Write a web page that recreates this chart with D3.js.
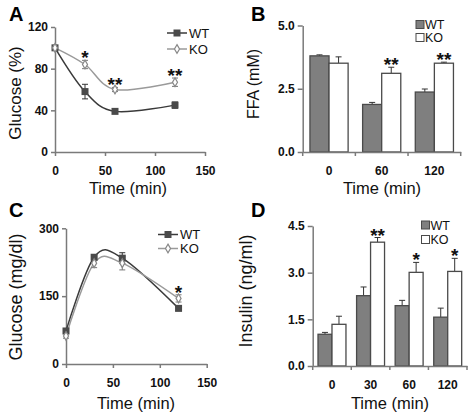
<!DOCTYPE html>
<html><head><meta charset="utf-8">
<script src="https://cdn.jsdelivr.net/npm/d3@7"></script>
<style>
body{margin:0;background:#fff;}
svg{display:block;font-family:"Liberation Sans",Arial,sans-serif;}
</style></head>
<body>
<svg id="c" width="472" height="420"></svg>
<script>
// ---------- data ----------
const seriesNames = ["WT", "KO"];
// Panel A: glucose (%) over time
const aTime = [0, 30, 60, 120];
const aWT = [100, 58, 39, 45];
const aWTErr = [0, 7, 2, 3];
const aKO = [100, 84, 60, 67];
const aKOErr = [0, 4, 2, 4];
const aStars = ["", "*", "**", "**"];
const aXTicks = [0, 50, 100, 150];
const aYTicks = [0, 40, 80, 120];
// Panel B: FFA (mM)
const bCats = ["0", "60", "120"];
const bWT = [3.8, 1.88, 2.37];
const bWTErr = [0.04, 0.08, 0.12];
const bKO = [3.51, 3.11, 3.51];
const bKOErr = [0.25, 0.24, 0.04];
const bStars = ["", "**", "**"];
const bYTicks = [0, 2.5, 5.0];
// Panel C: glucose (mg/dl)
const cTime = [0, 30, 60, 120];
const cWT = [73, 236, 234, 123];
const cWTErr = [5, 6, 12, 5];
const cKO = [62, 223, 223, 145];
const cKOErr = [5, 10, 15, 8];
const cStars = ["", "", "", "*"];
const cXTicks = [0, 50, 100, 150];
const cYTicks = [0, 150, 300];
// Panel D: insulin (ng/ml)
const dCats = ["0", "30", "60", "120"];
const dWT = [1.02, 2.26, 1.94, 1.57];
const dWTErr = [0.06, 0.28, 0.17, 0.29];
const dKO = [1.34, 3.98, 3.01, 3.04];
const dKOErr = [0.26, 0.15, 0.32, 0.42];
const dStars = ["", "**", "*", "*"];
const dYTicks = [0, 1.5, 3.0, 4.5];

// ---------- styles ----------
const AXIS = "#7a7a7a", WTC = "#3a3a3a", KOC = "#9a9a9a", BARWT = "#7f7f7f", BAREDGE = "#4a4a4a";
const svg = d3.select("#c");

function styleAxis(g) {
  g.selectAll("path.domain").attr("stroke", AXIS).attr("stroke-width", 1.5);
  g.selectAll(".tick line").attr("stroke", AXIS).attr("stroke-width", 1.5);
  g.selectAll(".tick text").attr("font-size", 12).attr("font-weight", "bold").attr("fill", "#111")
    .attr("font-family", '"Liberation Sans",Arial,sans-serif');
}
function star(g, x, yTop, s) {
  if (!s) return;
  g.append("text").attr("x", x).attr("y", yTop + 4).attr("text-anchor", "middle")
    .attr("font-size", 19).attr("font-weight", "bold").attr("fill", "#111").text(s);
}
function panelLetter(x, y, t) {
  svg.append("text").attr("x", x).attr("y", y).attr("font-size", 20).attr("font-weight", "bold")
    .attr("font-family", 'Arial,"Liberation Sans",sans-serif').text(t);
}
function ytitle(x, y, t, fs) {
  svg.append("text").attr("transform", `translate(${x},${y}) rotate(-90)`).attr("text-anchor", "middle")
    .attr("font-size", fs).attr("fill", "#111").text(t);
}
function xtitle(x, y, t) {
  svg.append("text").attr("x", x).attr("y", y).attr("text-anchor", "middle")
    .attr("font-size", 16.5).attr("fill", "#111").text(t);
}
const diamond = d3.symbol(d3.symbolDiamond, 22);

// ---------- line panel ----------
function linePanel(o) {
  const x = d3.scaleLinear().domain([0, 150]).range([o.x0, o.x1]);
  const y = d3.scaleLinear().domain([0, o.ymax]).range([o.y0, o.y1]);
  const g = svg.append("g");
  const ax = g.append("g").attr("transform", `translate(0,${o.y0})`)
    .call(d3.axisBottom(x).tickValues(o.xticks).tickSize(4).tickSizeOuter(0).tickPadding(10));
  styleAxis(ax);
  const ay = g.append("g").attr("transform", `translate(${o.x0},0)`)
    .call(d3.axisLeft(y).tickValues(o.yticks).tickSize(4).tickSizeOuter(0).tickPadding(3));
  styleAxis(ay);
  const series = [
    {name: "WT", v: o.wt, e: o.wtErr, color: WTC, ec: "#333"},
    {name: "KO", v: o.ko, e: o.koErr, color: KOC, ec: "#777"}
  ];
  const line = d3.line().curve(d3.curveCardinal.tension(0)).x(d => x(d[0])).y(d => y(d[1]));
  series.forEach(s => {
    const pts = o.time.map((t, i) => [t, s.v[i]]);
    g.append("path").attr("d", line(pts)).attr("fill", "none").attr("stroke", s.color).attr("stroke-width", 1.5);
    o.time.forEach((t, i) => {
      if (!s.e[i]) return;
      const cx = x(t), ya = y(s.v[i] + s.e[i]), yb = y(s.v[i] - s.e[i]);
      g.append("line").attr("x1", cx).attr("x2", cx).attr("y1", ya).attr("y2", yb).attr("stroke", s.ec).attr("stroke-width", 1);
      [ya, yb].forEach(yy => g.append("line").attr("x1", cx - 3).attr("x2", cx + 3).attr("y1", yy).attr("y2", yy).attr("stroke", s.ec).attr("stroke-width", 1));
    });
  });
  // markers
  o.time.forEach((t, i) => {
    g.append("rect").attr("x", x(t) - 3.5).attr("y", y(o.wt[i]) - 3.5).attr("width", 7).attr("height", 7).attr("fill", "#4a4a4a");
  });
  o.time.forEach((t, i) => {
    g.append("path").attr("d", diamond()).attr("transform", `translate(${x(t)},${y(o.ko[i])})`)
      .attr("fill", "#fff").attr("stroke", "#888").attr("stroke-width", 1.2);
  });
  o.time.forEach((t, i) => star(g, x(t), y(o.ko[i] + o.koErr[i]), o.stars[i]));
  // legend
  const L = o.leg;
  seriesNames.forEach((n, k) => {
    const yy = L.y + k * L.dy;
    g.append("line").attr("x1", L.x).attr("x2", L.x + 20).attr("y1", yy).attr("y2", yy)
      .attr("stroke", k === 0 ? WTC : KOC).attr("stroke-width", 1.5);
    if (k === 0) g.append("rect").attr("x", L.x + 10 - 3.5).attr("y", yy - 3.5).attr("width", 7).attr("height", 7).attr("fill", "#4a4a4a");
    else g.append("path").attr("d", diamond()).attr("transform", `translate(${L.x + 10},${yy})`)
      .attr("fill", "#fff").attr("stroke", "#888").attr("stroke-width", 1.2);
    g.append("text").attr("x", L.x + 22).attr("y", yy + 4.5).attr("font-size", 13).attr("fill", "#111").text(n);
  });
}

// ---------- bar panel ----------
function barPanel(o) {
  const x0 = d3.scaleBand().domain(o.cats).range([o.x0, o.x1]).paddingInner(0).paddingOuter(0);
  const x1 = d3.scaleBand().domain(seriesNames).range([0, x0.bandwidth()]).paddingInner(0).paddingOuter(0.38);
  const y = d3.scaleLinear().domain([0, o.ymax]).range([o.y0, o.y1]);
  const g = svg.append("g");
  const vals = {WT: o.wt, KO: o.ko}, errs = {WT: o.wtErr, KO: o.koErr};
  o.cats.forEach((c, i) => {
    seriesNames.forEach(s => {
      const bx = x0(c) + x1(s), v = vals[s][i], e = errs[s][i];
      const cx = bx + x1.bandwidth() / 2;
      g.append("line").attr("x1", cx).attr("x2", cx).attr("y1", y(v)).attr("y2", y(v + e)).attr("stroke", "#333").attr("stroke-width", 1);
      g.append("line").attr("x1", cx - 3).attr("x2", cx + 3).attr("y1", y(v + e)).attr("y2", y(v + e)).attr("stroke", "#333").attr("stroke-width", 1);
      g.append("rect").attr("x", bx).attr("y", y(v)).attr("width", x1.bandwidth()).attr("height", y(0) - y(v))
        .attr("fill", s === "WT" ? BARWT : "#fff").attr("stroke", BAREDGE).attr("stroke-width", 1.3);
    });
    star(g, x0(c) + x1("KO") + x1.bandwidth() / 2, y(o.ko[i] + o.koErr[i]), o.stars[i]);
  });
  const ax = g.append("g").attr("transform", `translate(0,${o.y0})`)
    .call(d3.axisBottom(x0).tickSize(0).tickPadding(14));
  styleAxis(ax);
  const bounds = o.cats.map(c => x0(c)).concat([o.x1]);
  bounds.forEach(bx => g.append("line").attr("x1", bx).attr("x2", bx).attr("y1", o.y0).attr("y2", o.y0 + 4).attr("stroke", AXIS).attr("stroke-width", 1.5));
  const ay = g.append("g").attr("transform", `translate(${o.x0},0)`)
    .call(d3.axisLeft(y).tickValues(o.yticks).tickFormat(d3.format(".1f")).tickSize(5).tickSizeOuter(0).tickPadding(3));
  styleAxis(ay);
  const L = o.leg;
  seriesNames.forEach((n, k) => {
    const yy = L.y + k * L.dy;
    g.append("rect").attr("x", L.x).attr("y", yy - 4).attr("width", 8).attr("height", 8)
      .attr("fill", k === 0 ? BARWT : "#fff").attr("stroke", BAREDGE).attr("stroke-width", 1);
    g.append("text").attr("x", L.x + 9).attr("y", yy + 4.5).attr("font-size", 12.5).attr("fill", "#111").text(n);
  });
}

// ---------- draw ----------
linePanel({x0: 55, x1: 205, y0: 152, y1: 27, ymax: 120, time: aTime, wt: aWT, wtErr: aWTErr, ko: aKO, koErr: aKOErr,
  stars: aStars, xticks: aXTicks, yticks: aYTicks, leg: {x: 167, y: 33, dy: 16}});
barPanel({x0: 302.7, x1: 460.7, y0: 152, y1: 25.5, ymax: 5, cats: bCats, wt: bWT, wtErr: bWTErr, ko: bKO, koErr: bKOErr,
  stars: bStars, yticks: bYTicks, leg: {x: 416, y: 24.5, dy: 13}});
linePanel({x0: 66, x1: 206.7, y0: 364, y1: 228.3, ymax: 300, time: cTime, wt: cWT, wtErr: cWTErr, ko: cKO, koErr: cKOErr,
  stars: cStars, xticks: cXTicks, yticks: cYTicks, leg: {x: 158, y: 234.5, dy: 14}});
barPanel({x0: 312.7, x1: 467, y0: 366, y1: 226, ymax: 4.5, cats: dCats, wt: dWT, wtErr: dWTErr, ko: dKO, koErr: dKOErr,
  stars: dStars, yticks: dYTicks, leg: {x: 421.5, y: 225, dy: 14.5}});

panelLetter(9, 21, "A");
panelLetter(251, 21, "B");
panelLetter(9, 217, "C");
panelLetter(251, 217, "D");

ytitle(21, 93, "Glucose (%)", 17);
ytitle(259, 84, "FFA (mM)", 16);
ytitle(22, 297, "Glucose (mg/dl)", 18);
ytitle(252, 291, "Insulin (ng/ml)", 18);

xtitle(128, 194, "Time (min)");
xtitle(382, 194, "Time (min)");
xtitle(136, 409, "Time (min)");
xtitle(390, 409, "Time (min)");
</script>
</body></html>
